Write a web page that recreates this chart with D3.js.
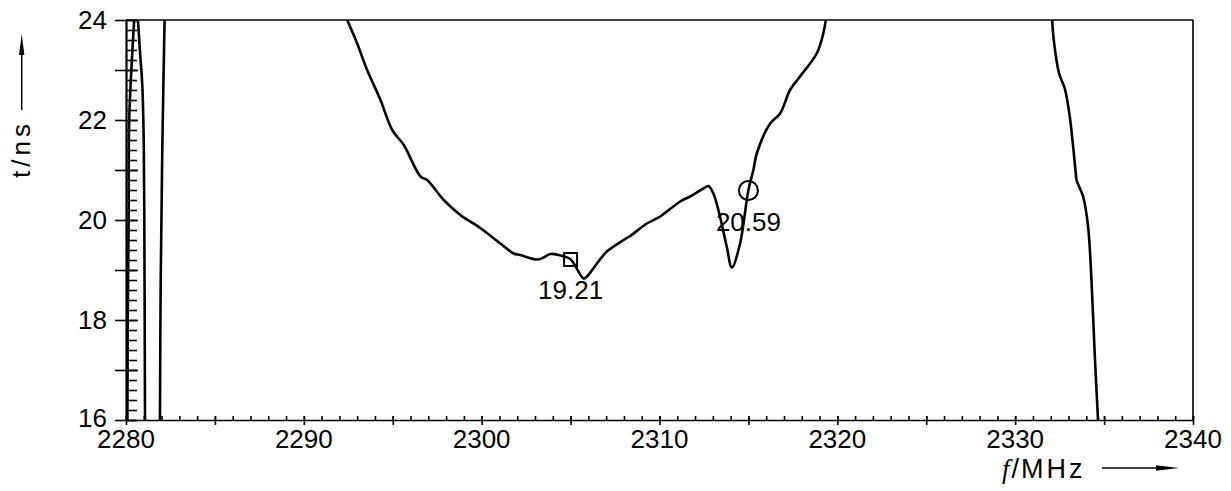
<!DOCTYPE html>
<html>
<head>
<meta charset="utf-8">
<script src="https://cdn.jsdelivr.net/npm/d3@7"></script>
<style>
  body { margin: 0; background: #fff; }
  text { font-family: "Liberation Sans", Arial, sans-serif; fill: #000; }
</style>
</head>
<body>
<svg id="chart" width="1231" height="491"></svg>
<script>
// main branch (group delay, ns)
var mainFreq = [2292.44, 2293.0, 2293.56, 2294.31, 2294.97, 2295.62, 2296.56, 2296.93, 2297.87, 2298.8,
  2299.92, 2301.05, 2301.8, 2302.17, 2303.11, 2303.48, 2303.86, 2304.33, 2304.98, 2305.73,
  2305.92, 2306.48, 2307.04, 2307.98, 2308.35, 2309.29, 2310.04, 2311.16, 2311.72, 2312.47,
  2312.75, 2313.03, 2313.4, 2313.78, 2314.07, 2314.53, 2315.0, 2315.28, 2315.47, 2316.22,
  2316.78, 2317.34, 2317.9, 2318.84, 2319.21, 2319.35];
var mainDelay = [24.0, 23.53, 23.0, 22.4, 21.8, 21.5, 20.87, 20.8, 20.4, 20.1,
  19.84, 19.53, 19.33, 19.3, 19.21, 19.25, 19.32, 19.3, 19.22, 18.83,
  18.87, 19.13, 19.37, 19.6, 19.68, 19.93, 20.07, 20.37, 20.47, 20.63,
  20.68, 20.53, 20.07, 19.47, 19.05, 19.53, 20.6, 21.0, 21.33, 21.93,
  22.13, 22.6, 22.87, 23.33, 23.73, 24.0];

// steep branches near the band edges
var edge1Freq = [2280.46, 2280.33, 2280.18, 2280.15, 2280.1, 2280.08];
var edge1Delay = [24, 23.2, 22, 20, 18, 16];
var edge2Freq = [2280.67, 2280.8, 2280.92, 2281.0, 2281.03, 2281.05, 2281.07];
var edge2Delay = [24, 23.3, 22.67, 21.5, 20, 18, 16];
var edge3Freq = [2282.17, 2282.04, 2281.95, 2281.91];
var edge3Delay = [24, 21.4, 18.74, 16];
var rightFreq = [2332.08, 2332.17, 2332.47, 2332.79, 2333.07, 2333.41, 2333.45, 2333.82, 2334.1, 2334.29, 2334.48, 2334.66];
var rightDelay = [24, 23.6, 22.93, 22.63, 22.07, 20.93, 20.8, 20.47, 19.87, 18.8, 17.27, 16];

// markers
var markerFreq = [2305, 2315];
var markerDelay = [19.21, 20.59];
var markerShape = ["square", "circle"];

var xTickLabels = [2280, 2290, 2300, 2310, 2320, 2330, 2340];
var yTickLabels = [16, 18, 20, 22, 24];

const margin = {left: 126, right: 38, top: 20, bottom: 71};
const width = 1231 - margin.left - margin.right;
const height = 491 - margin.top - margin.bottom;

const svg = d3.select("#chart");
const g = svg.append("g").attr("transform", "translate(" + margin.left + "," + margin.top + ")");

const xScale = d3.scaleLinear().domain([2280, 2340]).range([0, width]);
const yScale = d3.scaleLinear().domain([16, 24]).range([height, 0]);

g.append("clipPath").attr("id", "clip")
  .append("rect").attr("width", width).attr("height", height);

// frame (top + right)
g.append("line").attr("x1", 0).attr("x2", width).attr("y1", 0).attr("y2", 0)
  .attr("stroke", "#000").attr("stroke-width", 1.3);
g.append("line").attr("x1", width).attr("x2", width).attr("y1", 0).attr("y2", height)
  .attr("stroke", "#000").attr("stroke-width", 1.6);

// x axis: minor ticks inside, major ticks crossing
g.append("g")
  .attr("transform", "translate(0," + height + ")")
  .call(d3.axisTop(xScale).ticks(60).tickSize(4).tickFormat("").tickSizeOuter(0))
  .call(a => a.select(".domain").attr("stroke-width", 1.6));
g.append("g")
  .attr("transform", "translate(0," + (height + 5) + ")")
  .call(d3.axisTop(xScale).tickValues(d3.range(2280, 2341, 5)).tickSize(9).tickFormat("").tickSizeOuter(0))
  .call(a => a.select(".domain").remove());
g.append("g").selectAll("text")
  .data(xTickLabels)
  .enter().append("text")
  .attr("x", d => xScale(d))
  .attr("y", height + 28)
  .attr("text-anchor", "middle")
  .style("font-size", "26px")
  .text(d => d);

// y axis: minor ticks inside every 0.2, major every 1
g.append("g")
  .call(d3.axisRight(yScale).tickValues(d3.range(16, 24.01, 0.2)).tickSize(11).tickFormat("").tickSizeOuter(0))
  .call(a => a.select(".domain").attr("stroke-width", 2.2));
g.append("g")
  .attr("transform", "translate(-11,0)")
  .call(d3.axisRight(yScale).tickValues(d3.range(16, 25, 1)).tickSize(23).tickFormat("").tickSizeOuter(0))
  .call(a => a.select(".domain").remove());
g.append("g").selectAll("text")
  .data(yTickLabels)
  .enter().append("text")
  .attr("x", -19)
  .attr("y", d => yScale(d) - (d == 16 ? 2 : 0))
  .attr("dy", "0.36em")
  .attr("text-anchor", "end")
  .style("font-size", "26px")
  .text(d => d);

g.selectAll(".tick line").attr("stroke", "#000").attr("stroke-width", 1.6);

// curves
const line = d3.line()
  .x(d => xScale(d[0]))
  .y(d => yScale(d[1]))
  .curve(d3.curveCatmullRom.alpha(0.5));

var branches = [
  [edge1Freq, edge1Delay], [edge2Freq, edge2Delay], [edge3Freq, edge3Delay],
  [mainFreq, mainDelay], [rightFreq, rightDelay]
];
branches.forEach(b => {
  g.append("path")
    .datum(d3.zip(b[0], b[1]))
    .attr("clip-path", "url(#clip)")
    .attr("d", line)
    .attr("fill", "none")
    .attr("stroke", "#000")
    .attr("stroke-width", 2.6)
    .attr("stroke-linejoin", "round");
});

// markers + labels
markerFreq.forEach((f, i) => {
  var cx = xScale(f), cy = yScale(markerDelay[i]);
  if (markerShape[i] == "square") {
    g.append("rect").attr("x", cx - 6.5).attr("y", cy - 6.5).attr("width", 13).attr("height", 13)
      .attr("fill", "none").attr("stroke", "#000").attr("stroke-width", 2);
    g.append("text").attr("x", cx).attr("y", cy + 39).attr("text-anchor", "middle")
      .style("font-size", "26px").text(markerDelay[i].toFixed(2));
  } else {
    g.append("circle").attr("cx", cx).attr("cy", cy).attr("r", 9.5)
      .attr("fill", "none").attr("stroke", "#000").attr("stroke-width", 2);
    g.append("text").attr("x", cx).attr("y", cy + 40).attr("text-anchor", "middle")
      .style("font-size", "26px").text(markerDelay[i].toFixed(2));
  }
});

// axis titles with arrows
const xt = svg.append("text").attr("x", 1002).attr("y", 478).style("font-size", "27px");
xt.append("tspan").style("font-family", "'Liberation Serif', serif").style("font-style", "italic").text("f");
xt.append("tspan").attr("dx", 2).text("/");
xt.append("tspan").attr("dx", 2).style("letter-spacing", "3px").text("MHz");
svg.append("line").attr("x1", 1102).attr("x2", 1162).attr("y1", 468).attr("y2", 468)
  .attr("stroke", "#000").attr("stroke-width", 1.5);
svg.append("path").attr("d", "M1156,465.3L1179,468L1156,470.7Z").attr("fill", "#000");

svg.append("text")
  .attr("transform", "translate(30,120) rotate(-90)")
  .attr("text-anchor", "end")
  .style("font-size", "26px")
  .style("letter-spacing", "4px")
  .text("t/ns");
svg.append("line").attr("x1", 21.7).attr("x2", 21.7).attr("y1", 110).attr("y2", 50)
  .attr("stroke", "#000").attr("stroke-width", 1.5);
svg.append("path").attr("d", "M19,55L21.7,34L24.4,55Z").attr("fill", "#000");
</script>
</body>
</html>
